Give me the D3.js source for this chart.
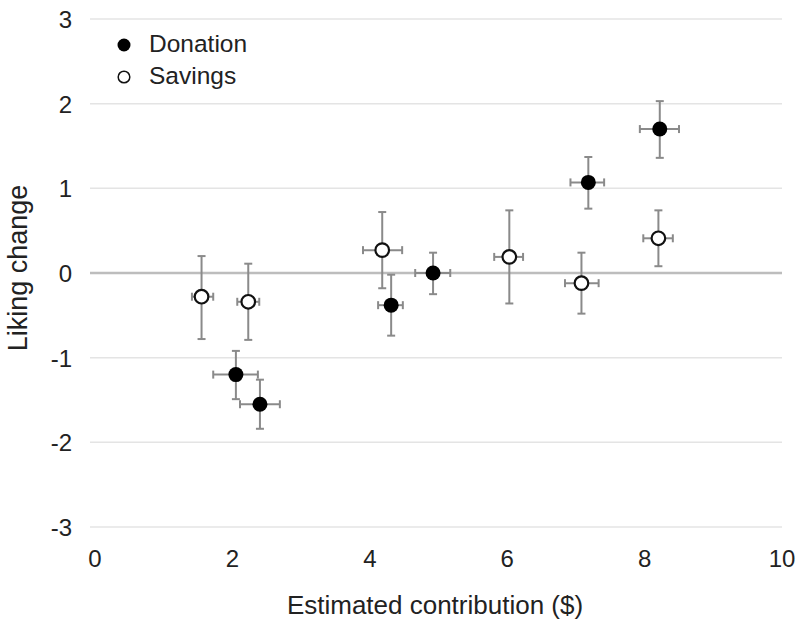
<!DOCTYPE html>
<html><head><meta charset="utf-8">
<script src="https://cdn.jsdelivr.net/npm/d3@7"></script>
<style>body{margin:0;background:#fff}svg{display:block}text{font-family:"Liberation Sans",Arial,sans-serif;fill:#222}</style>
</head><body><svg id="c" width="800" height="625"></svg>
<script>
const xTicks = [0, 2, 4, 6, 8, 10];
const yTicks = [-3, -2, -1, 0, 1, 2, 3];
const seriesNames = ["Donation", "Savings"];
// Donation
const donX    = [2.08, 2.43, 4.34, 4.95, 7.21, 8.25];
const donXlo  = [1.75, 2.14, 4.15, 4.69, 6.95, 7.96];
const donXhi  = [2.40, 2.72, 4.51, 5.20, 7.44, 8.53];
const donY    = [-1.20, -1.55, -0.38, 0.00, 1.07, 1.70];
const donYlo  = [-1.49, -1.84, -0.74, -0.25, 0.76, 1.36];
const donYhi  = [-0.92, -1.26, -0.02, 0.24, 1.37, 2.03];
// Savings
const savX    = [1.58, 2.26, 4.21, 6.06, 7.11, 8.23];
const savXlo  = [1.44, 2.10, 3.93, 5.84, 6.87, 8.01];
const savXhi  = [1.75, 2.42, 4.50, 6.26, 7.36, 8.44];
const savY    = [-0.28, -0.34, 0.27, 0.19, -0.12, 0.41];
const savYlo  = [-0.78, -0.79, -0.18, -0.36, -0.48, 0.08];
const savYhi  = [0.20, 0.11, 0.72, 0.74, 0.24, 0.74];

const svg = d3.select("#c");
const x = d3.scaleLinear().domain([0, 10]).range([93, 780]);
const y = d3.scaleLinear().domain([-3, 3]).range([527, 19]);
const fmt = d => d < 0 ? "-" + Math.abs(d) : String(d);

// gridlines
svg.append("g").selectAll("line").data(yTicks).join("line")
  .attr("x1", 90).attr("x2", 782)
  .attr("y1", d => y(d)).attr("y2", d => y(d))
  .attr("stroke", d => d === 0 ? "#bdbdbd" : "#e4e4e4")
  .attr("stroke-width", d => d === 0 ? 2.4 : 1.5);

// axes (text only)
const yAx = svg.append("g").attr("transform", "translate(72,0)")
  .call(d3.axisLeft(y).tickValues(yTicks).tickSize(0).tickPadding(0).tickFormat(fmt));
yAx.select(".domain").remove();
yAx.selectAll("text").attr("font-size", 24).attr("dy", "0.36em").style("font-family", "Liberation Sans, Arial, sans-serif").attr("fill", "#222");

const xAx = svg.append("g").attr("transform", "translate(0,567)")
  .call(d3.axisBottom(x).tickValues(xTicks).tickSize(0).tickPadding(0).tickFormat(fmt));
xAx.select(".domain").remove();
xAx.selectAll("text").attr("font-size", 24).attr("dy", "0").attr("y", 0).attr("dx", 1.5).style("font-family", "Liberation Sans, Arial, sans-serif").attr("fill", "#222");

svg.append("text").attr("x", 435).attr("y", 614).attr("text-anchor", "middle")
  .attr("font-size", 26).text("Estimated contribution ($)");
svg.append("text").attr("transform", "translate(27,268) rotate(-90)").attr("text-anchor", "middle")
  .attr("font-size", 27).text("Liking change");

function drawSeries(X, Xlo, Xhi, Y, Ylo, Yhi, filled) {
  const data = X.map((v, i) => ({x: v, xlo: Xlo[i], xhi: Xhi[i], y: Y[i], ylo: Ylo[i], yhi: Yhi[i]}));
  const g = svg.append("g").attr("stroke", "#8a8a8a").attr("stroke-width", 2);
  const cap = 4;
  data.forEach(d => {
    g.append("line").attr("x1", x(d.x)).attr("x2", x(d.x)).attr("y1", y(d.ylo)).attr("y2", y(d.yhi));
    g.append("line").attr("x1", x(d.x) - cap).attr("x2", x(d.x) + cap).attr("y1", y(d.ylo)).attr("y2", y(d.ylo));
    g.append("line").attr("x1", x(d.x) - cap).attr("x2", x(d.x) + cap).attr("y1", y(d.yhi)).attr("y2", y(d.yhi));
    g.append("line").attr("x1", x(d.xlo)).attr("x2", x(d.xhi)).attr("y1", y(d.y)).attr("y2", y(d.y));
    g.append("line").attr("x1", x(d.xlo)).attr("x2", x(d.xlo)).attr("y1", y(d.y) - cap).attr("y2", y(d.y) + cap);
    g.append("line").attr("x1", x(d.xhi)).attr("x2", x(d.xhi)).attr("y1", y(d.y) - cap).attr("y2", y(d.y) + cap);
  });
  svg.append("g").selectAll("circle").data(data).join("circle")
    .attr("cx", d => x(d.x)).attr("cy", d => y(d.y)).attr("r", filled ? 7.5 : 6.8)
    .attr("fill", filled ? "#000" : "#fff").attr("stroke", "#111").attr("stroke-width", filled ? 0 : 2.2);
}
drawSeries(savX, savXlo, savXhi, savY, savYlo, savYhi, false);
drawSeries(donX, donXlo, donXhi, donY, donYlo, donYhi, true);

// legend
const leg = svg.append("g");
seriesNames.forEach((n, i) => {
  const base = 52 + i * 32;
  leg.append("circle").attr("cx", 124).attr("cy", base - 7).attr("r", i === 0 ? 6.5 : 5.8)
    .attr("fill", i === 0 ? "#000" : "#fff").attr("stroke", "#111").attr("stroke-width", i === 0 ? 0 : 1.5);
  leg.append("text").attr("x", 149).attr("y", base).attr("font-size", 24.5).text(n);
});
</script></body></html>
